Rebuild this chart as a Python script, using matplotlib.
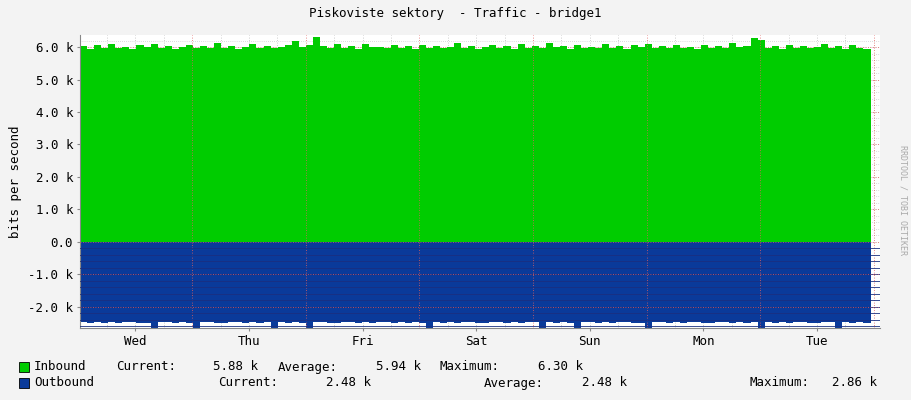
import matplotlib
matplotlib.use("Agg")
import matplotlib.pyplot as plt
import numpy as np

title = "Piskoviste sektory  - Traffic - bridge1"
days = ["Wed", "Thu", "Fri", "Sat", "Sun", "Mon", "Tue"]
yticks = [-2.0, -1.0, 0.0, 1.0, 2.0, 3.0, 4.0, 5.0, 6.0]
ylabels = ["-2.0 k", "-1.0 k", "0.0", "1.0 k", "2.0 k", "3.0 k", "4.0 k", "5.0 k", "6.0 k"]

inbound = [6.02, 5.95, 6.05, 5.98, 6.08, 5.96, 6.01, 5.94, 6.06, 5.99, 6.10, 5.97, 6.03, 5.95, 6.00,
           6.07, 5.96, 6.02, 5.98, 6.12, 5.97, 6.04, 5.95, 6.01, 6.09, 5.98, 6.03, 5.96, 6.00, 6.06,
           6.18, 5.99, 6.05, 6.30, 6.02, 5.97, 6.08, 5.98, 6.03, 5.95, 6.10, 5.99, 6.01, 5.96, 6.05,
           5.98, 6.02, 5.94, 6.07, 5.97, 6.03, 5.96, 6.00, 6.11, 5.98, 6.04, 5.95, 6.01, 6.06, 5.97,
           6.02, 5.95, 6.08, 5.98, 6.03, 5.96, 6.12, 5.99, 6.02, 5.95, 6.05, 5.98, 6.01, 5.96, 6.09,
           5.97, 6.03, 5.95, 6.06, 6.00, 6.10, 5.98, 6.02, 5.96, 6.05, 5.97, 6.01, 5.95, 6.07, 5.98,
           6.03, 5.96, 6.11, 5.99, 6.04, 6.28, 6.22, 5.98, 6.02, 5.95, 6.06, 5.97, 6.03, 5.96, 6.00,
           6.08, 5.98, 6.02, 5.95, 6.05, 5.97, 5.93]
outbound = [-2.48, -2.50, -2.47, -2.49, -2.46, -2.50, -2.48, -2.47, -2.49, -2.51, -2.72, -2.48, -2.47,
            -2.50, -2.46, -2.49, -2.80, -2.48, -2.47, -2.50, -2.49, -2.46, -2.48, -2.50, -2.47, -2.49,
            -2.48, -2.84, -2.47, -2.50, -2.46, -2.49, -2.86, -2.48, -2.47, -2.50, -2.49, -2.46, -2.48,
            -2.50, -2.47, -2.49, -2.48, -2.46, -2.50, -2.47, -2.49, -2.48, -2.51, -2.78, -2.47, -2.50,
            -2.46, -2.49, -2.48, -2.47, -2.50, -2.49, -2.46, -2.48, -2.50, -2.47, -2.49, -2.48, -2.46,
            -2.80, -2.47, -2.49, -2.48, -2.50, -2.74, -2.48, -2.47, -2.50, -2.46, -2.49, -2.48, -2.47,
            -2.50, -2.49, -2.84, -2.48, -2.47, -2.50, -2.46, -2.49, -2.48, -2.47, -2.50, -2.49, -2.46,
            -2.48, -2.50, -2.47, -2.49, -2.48, -2.82, -2.47, -2.50, -2.46, -2.49, -2.48, -2.47, -2.50,
            -2.49, -2.46, -2.48, -2.80, -2.47, -2.50, -2.48, -2.49]
legend_in = ["Inbound", "Current:", "5.88 k", "Average:", "5.94 k", "Maximum:", "6.30 k"]
legend_out = ["Outbound", "Current:", "2.48 k", "Average:", "2.48 k", "Maximum:", "2.86 k"]

W, H = 911, 400
fig = plt.figure(figsize=(W / 100, H / 100), dpi=100, facecolor="#F3F3F3")
x0, x1, ytop, ybot = 80, 880, 35, 328
ax = fig.add_axes([x0 / W, 1 - ybot / H, (x1 - x0) / W, (ybot - ytop) / H])
ax.set_facecolor("white")
mono = "DejaVu Sans Mono"

n = len(inbound)
t = np.linspace(0, 167, n + 1)
ax.fill_between(t, np.append(inbound, inbound[-1]), 0, step="post", color="#00CC00", lw=0, zorder=2)
ax.fill_between(t, np.append(outbound, outbound[-1]), 0, step="post", color="#0A3A9A", lw=0, zorder=2)

mid0 = 23.7
for k in range(-1, 8):
    for h in (6, 12, 18):
        xx = mid0 + 24 * k + h
        if 0 < xx < 168:
            ax.axvline(xx, color="#BBBBBB", lw=0.6, ls=(0, (1, 2)), zorder=1)
for k in range(7):
    ax.axvline(mid0 + 24 * k, color="#E06060", lw=0.6, ls=(0, (1, 2)), zorder=3)
for yv in np.arange(-2.6, 6.4, 0.2):
    if yv < -0.05:
        ax.axhline(yv, color="#1A2F80", lw=0.6, zorder=3)
    else:
        ax.axhline(yv, color="#BBBBBB", lw=0.5, ls=(0, (1, 2)), zorder=1)
for yv in yticks:
    ax.axhline(yv, color="#E06060", lw=0.6, ls=(0, (1, 2)), zorder=1 if yv > 0 else 3)

ax.set_xlim(0, 169)
ax.set_ylim(-2.65, 6.37)
ax.set_yticks(yticks)
ax.set_yticklabels(ylabels, fontfamily=mono, fontsize=9)
ax.set_xticks([mid0 - 12 + 24 * k for k in range(7)])
ax.set_xticklabels(days, fontfamily=mono, fontsize=9)
ax.tick_params(length=2, color="#888888", pad=3)
for s in ["top", "right"]:
    ax.spines[s].set_visible(False)
ax.spines["left"].set_color("#888888")
ax.spines["bottom"].set_color("#888888")
ax.set_ylabel("bits per second", fontfamily=mono, fontsize=9)

fig.text(455 / W, 1 - 14 / H, title, ha="center", va="center", fontfamily=mono, fontsize=9)
fig.text(903 / W, 1 - 200 / H, "RRDTOOL / TOBI OETIKER", rotation=270, ha="center", va="center",
         fontfamily=mono, fontsize=6, color="#AAAAAA")

def box(y, c):
    fig.patches.append(plt.Rectangle((19 / W, 1 - (y + 5) / H), 10 / W, 10 / H,
                                     transform=fig.transFigure, facecolor=c, edgecolor="black", lw=0.6))
box(367, "#00CC00")
box(383, "#0A3A9A")
pos_in = [(34, "left"), (116, "left"), (258, "right"), (278, "left"), (421, "right"), (440, "left"), (583, "right")]
for (xx, ha), s in zip(pos_in, legend_in):
    fig.text(xx / W, 1 - 367 / H, s, ha=ha, va="center", fontfamily=mono, fontsize=9)
pos_out = [(34, "left"), (218, "left"), (371, "right"), (484, "left"), (627, "right"), (750, "left"), (877, "right")]
for (xx, ha), s in zip(pos_out, legend_out):
    fig.text(xx / W, 1 - 383 / H, s, ha=ha, va="center", fontfamily=mono, fontsize=9)

fig.savefig("out.png", dpi=100, facecolor=fig.get_facecolor())
